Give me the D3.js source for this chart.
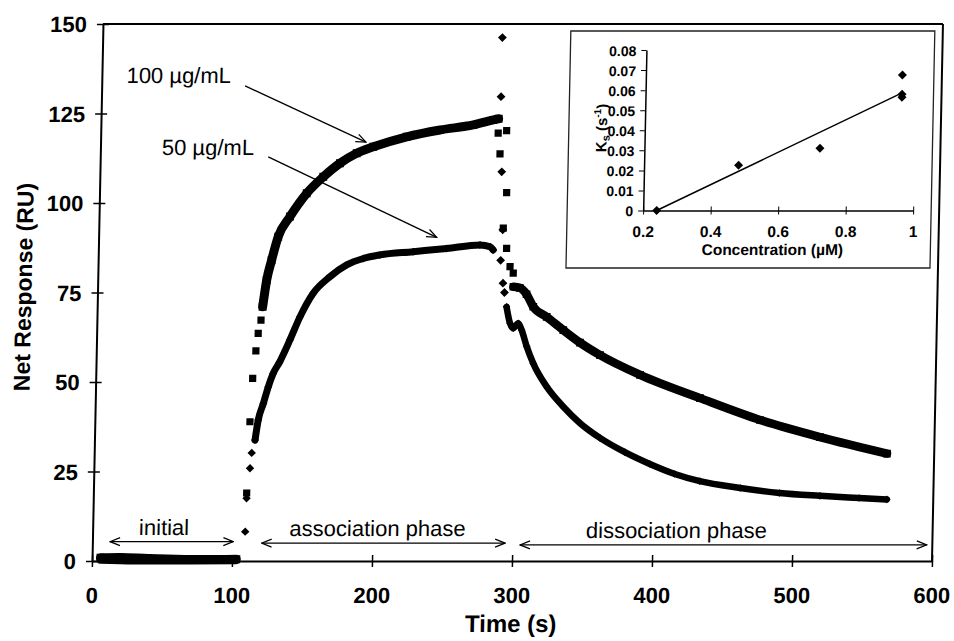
<!DOCTYPE html>
<html lang="en">
<head>
<meta charset="utf-8">
<title>Net Response</title>
<script src="https://cdnjs.cloudflare.com/ajax/libs/d3/7.8.5/d3.min.js"></script>
<style>
  body { margin: 0; background: #fff; }
  text { font-family: "Liberation Sans", Arial, sans-serif; fill: #000; }
</style>
</head>
<body>
<script>
var w = 954, h = 641;

// axis ticks
var xTicks = [0, 100, 200, 300, 400, 500, 600];
var yTicks = [0, 25, 50, 75, 100, 125, 150];
var insetXTicks = [0.2, 0.4, 0.6, 0.8, 1];
var insetYTicks = [0, 0.01, 0.02, 0.03, 0.04, 0.05, 0.06, 0.07, 0.08];

// [time (s), response (RU)]
var init100 = [[6, 0.9], [20, 1], [40, 0.7], [60, 0.5], [80, 0.4], [103, 0.5]];
var init50 = [[6, 0.2], [30, 0], [60, 0], [103, 0.1]];

var rise100 = [[109.5, 19], [110.8, 38.9], [112.1, 51], [114, 58.7], [115.4, 63.6], [117.2, 67.3]];
var assoc100 = [[118.2, 71], [120.7, 78.5], [123.9, 84], [128.3, 90.6], [136.4, 96.2], [148, 102.7],
  [159.6, 107.3], [171.3, 111.1], [183.1, 113.9], [194.9, 115.7], [218.6, 118.5], [242.3, 120.4],
  [266, 121.8], [280.2, 123.2], [284, 123.5]];
var drop100 = [[283.9, 119.5], [289.9, 120.2], [285.5, 113.7], [290.8, 102.9], [288.9, 93],
  [291.6, 87.3], [294.3, 82.2], [296.7, 80.4]];
var dissoc100 = [[297, 76.6], [301.5, 76.3], [306.5, 74.5], [311.5, 71], [321.2, 68.2], [333.3, 64.5],
  [345.4, 61], [359.9, 57.5], [388.7, 52], [431.9, 45.5], [475.1, 39.4], [518.2, 34.6], [566.3, 30]];

var rise50 = [[109, 8.2], [109.5, 17.5], [111.5, 25.9], [112.5, 30.2]];
var assoc50 = [[114.7, 33.8], [116.7, 39.4], [120.1, 44], [123.4, 48.7], [126.7, 52.4], [131, 55.5],
  [138.1, 61.7], [145, 68.2], [154.1, 74.8], [165.8, 79.4], [177.6, 82.7], [189.4, 84.5], [201.2, 85.5],
  [224.9, 86.4], [248.8, 87.3], [272.5, 88.3], [279.7, 87.8], [282, 86.9]];
var drop50 = [[285.5, 146.2], [285.4, 129.7], [287, 108.7], [288.6, 92.5], [287.5, 84], [289.5, 77.6], [290.7, 75]];
var dissoc50 = [[292.4, 71], [295.1, 66.4], [297.5, 65], [301, 66.4], [303.5, 64.5], [307.4, 59.9],
  [312.3, 55.2], [322.2, 48.7], [334.4, 43.1], [346.6, 38.5], [361, 34.4], [379, 30.4], [397, 27.1],
  [415, 24.3], [433, 22.3], [462, 20.4], [490, 19], [519, 18.2], [547, 17.6], [566.8, 17.2]];

// inset: [concentration (uM), Ks (1/s)]
var insetPoints = [[0.24, 0], [0.48, 0.0225], [0.72, 0.031], [0.96, 0.0675], [0.96, 0.058], [0.96, 0.0565]];
var insetFit = [[0.24, 0], [0.96, 0.0586]];

// annotations, in data units
var arrow100 = [[102.4, 132.7], [189.6, 117]];
var arrow50 = [[120, 112.9], [241.5, 90.4]];
var phases = [
  { name: "initial", from: 12.6, to: 100.7, at: 5.4, mid: 51 },
  { name: "association phase", from: 120.9, to: 294.8, at: 5.0, mid: 203.5 },
  { name: "dissociation phase", from: 305.5, to: 596, at: 4.5, mid: 417 }
];

var svg = d3.select("body").append("svg")
  .attr("width", w)
  .attr("height", h);

var defs = svg.append("defs");
defs.append("marker")
  .attr("id", "head")
  .attr("viewBox", "0 0 12 10")
  .attr("refX", 11).attr("refY", 5)
  .attr("markerWidth", 12).attr("markerHeight", 10)
  .attr("markerUnits", "userSpaceOnUse")
  .attr("orient", "auto-start-reverse")
  .append("path")
  .attr("d", "M1,1 L11,5 L1,9")
  .attr("fill", "none")
  .attr("stroke", "#000")
  .attr("stroke-width", 1.2);

// the scanned figure leans a little to the right, so skew everything about the x axis
var g = svg.append("g").attr("transform", "translate(0,561) skewX(-1.17) translate(0,-561)");

var x = d3.scaleLinear().domain([0, 600]).range([92, 932]);
var y = d3.scaleLinear().domain([0, 150]).range([561, 24]);

// frame
g.append("line").attr("x1", x(0)).attr("x2", x(600)).attr("y1", y(150)).attr("y2", y(150))
  .attr("stroke", "#000").attr("stroke-width", 2);
g.append("line").attr("x1", x(600)).attr("x2", x(600)).attr("y1", y(0)).attr("y2", y(150))
  .attr("stroke", "#000").attr("stroke-width", 2);

var xAxis = g.append("g")
  .attr("transform", "translate(0," + y(0) + ")")
  .call(d3.axisBottom(x).tickValues(xTicks).tickSizeOuter(0).tickFormat(d3.format("d")));
xAxis.selectAll(".tick line").attr("y1", -6).attr("y2", 6).attr("stroke-width", 1.5);
xAxis.selectAll(".tick text").attr("y", 42).attr("dy", null)
  .style("font-size", "22px").style("font-weight", "bold");

var yAxis = g.append("g")
  .attr("transform", "translate(" + x(0) + ",0)")
  .call(d3.axisLeft(y).tickValues(yTicks).tickSizeOuter(0));
yAxis.selectAll(".tick line").attr("x1", -6).attr("x2", 6).attr("stroke-width", 1.5);
yAxis.selectAll(".tick text").attr("x", -16).attr("dy", "0.36em")
  .style("font-size", "22px").style("font-weight", "bold");

g.selectAll(".domain").attr("stroke-width", 2);

g.append("text")
  .attr("transform", "translate(26,287) rotate(-90)")
  .attr("text-anchor", "middle")
  .style("font-size", "23px").style("font-weight", "bold")
  .text("Net Response (RU)");

g.append("text")
  .attr("x", 512).attr("y", 632)
  .attr("text-anchor", "middle")
  .style("font-size", "24px").style("font-weight", "bold")
  .text("Time (s)");

// series
var line = d3.line().x(function (d) { return x(d[0]); }).y(function (d) { return y(d[1]); })
  .curve(d3.curveMonotoneX);

function square(s) { return "M" + (-s) + "," + (-s) + "h" + 2 * s + "v" + 2 * s + "h" + (-2 * s) + "Z"; }
function diamond(s) { return "M0," + (-s) + "L" + s + ",0L0," + s + "L" + (-s) + ",0Z"; }

function band(data, width) {
  g.append("path").datum(data)
    .attr("d", line)
    .attr("fill", "none")
    .attr("stroke", "#000")
    .attr("stroke-width", width)
    .attr("stroke-linejoin", "round")
    .attr("stroke-linecap", "round");
}
function markers(data, shape) {
  g.append("g").selectAll("path")
    .data(data)
    .enter()
    .append("path")
    .attr("transform", function (d) { return "translate(" + x(d[0]) + "," + y(d[1]) + ")"; })
    .attr("d", shape)
    .attr("fill", "#000");
}

band(init100, 9);
band(init50, 7);
band(assoc100, 9);
band(dissoc100, 8.5);
band(assoc50, 7);
band(dissoc50, 6.5);

markers(init100, square(4));
markers(rise100, square(3.6));
markers(assoc100, square(4));
markers(drop100, square(3.6));
markers(dissoc100, square(3.8));
markers(rise50, diamond(4.2));
markers(assoc50, diamond(4));
markers(drop50, diamond(4.4));
markers(dissoc50, diamond(3.8));

// labels and arrows
g.append("text").attr("x", x(17.6)).attr("y", y(133.6))
  .style("font-size", "22px").text("100 \u00b5g/mL");
g.append("text").attr("x", x(43.9)).attr("y", y(113.4))
  .style("font-size", "22px").text("50 \u00b5g/mL");

[arrow100, arrow50].forEach(function (a) {
  g.append("line")
    .attr("x1", x(a[0][0])).attr("y1", y(a[0][1]))
    .attr("x2", x(a[1][0])).attr("y2", y(a[1][1]))
    .attr("stroke", "#000").attr("stroke-width", 1.3)
    .attr("marker-end", "url(#head)");
});

phases.forEach(function (p) {
  g.append("line")
    .attr("x1", x(p.from)).attr("x2", x(p.to))
    .attr("y1", y(p.at)).attr("y2", y(p.at))
    .attr("stroke", "#000").attr("stroke-width", 1.1)
    .attr("marker-start", "url(#head)")
    .attr("marker-end", "url(#head)");
  g.append("text")
    .attr("x", x(p.mid)).attr("y", y(p.at) - 7)
    .attr("text-anchor", "middle")
    .style("font-size", "22px")
    .text(p.name);
});

// inset
var ix = d3.scaleLinear().domain([0.2, 1]).range([636, 906]);
var iy = d3.scaleLinear().domain([0, 0.08]).range([210.5, 50]);

g.append("rect")
  .attr("x", 560).attr("y", 31).attr("width", 364).attr("height", 237)
  .attr("fill", "#fff").attr("stroke", "#222").attr("stroke-width", 1.3);

var ixAxis = g.append("g")
  .attr("transform", "translate(0," + iy(0) + ")")
  .call(d3.axisBottom(ix).tickValues(insetXTicks).tickSizeOuter(0)
    .tickFormat(function (d) { return d === 1 ? "1" : d.toFixed(1); }));
ixAxis.selectAll(".tick line").attr("y1", -4).attr("y2", 4);
ixAxis.selectAll(".tick text").attr("y", 27).attr("dy", null)
  .style("font-size", "15.5px").style("font-weight", "bold");

var iyAxis = g.append("g")
  .attr("transform", "translate(" + ix(0.2) + ",0)")
  .call(d3.axisLeft(iy).tickValues(insetYTicks).tickSize(5).tickSizeOuter(0)
    .tickFormat(function (d) { return d === 0 ? "0" : d.toFixed(2); }));
iyAxis.selectAll(".tick text").attr("x", -10).attr("dy", "0.36em")
  .style("font-size", "14px").style("font-weight", "bold");
ixAxis.select(".domain").attr("stroke-width", 1.5);
iyAxis.select(".domain").attr("stroke-width", 1.5);

g.append("path").datum(insetFit)
  .attr("d", d3.line().x(function (d) { return ix(d[0]); }).y(function (d) { return iy(d[1]); }))
  .attr("stroke", "#000").attr("stroke-width", 1.5).attr("fill", "none");

g.append("g").selectAll("path")
  .data(insetPoints)
  .enter()
  .append("path")
  .attr("transform", function (d) { return "translate(" + ix(d[0]) + "," + iy(d[1]) + ")"; })
  .attr("d", diamond(4.5))
  .attr("fill", "#000");

g.append("text")
  .attr("x", 766).attr("y", 255)
  .attr("text-anchor", "middle")
  .style("font-size", "15.5px").style("font-weight", "bold")
  .text("Concentration (\u00b5M)");

var ks = g.append("text")
  .attr("transform", "translate(598,128) rotate(-90)")
  .attr("text-anchor", "middle")
  .style("font-size", "15px").style("font-weight", "bold");
ks.append("tspan").text("K");
ks.append("tspan").attr("dy", 3).style("font-size", "11px").text("s");
ks.append("tspan").attr("dy", -3).text(" (s");
ks.append("tspan").attr("dy", -6).style("font-size", "10px").text("-1");
ks.append("tspan").attr("dy", 6).text(")");
</script>
</body>
</html>
